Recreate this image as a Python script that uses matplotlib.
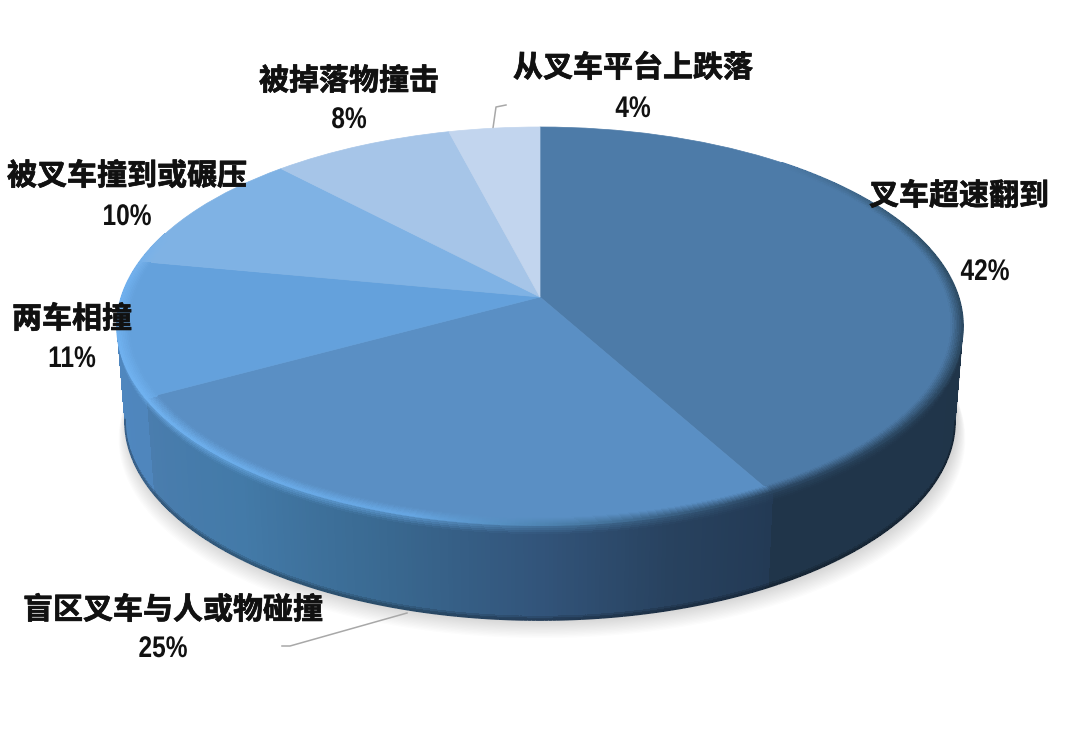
import numpy as np
import matplotlib
matplotlib.use('Agg')
import matplotlib.pyplot as plt
from matplotlib.collections import PolyCollection, LineCollection
from matplotlib.colors import to_rgb
from matplotlib.transforms import Transform, Affine2D
import matplotlib.patheffects as pe

# ---- data ----
categories = ['叉车超速翻到', '盲区叉车与人或物碰撞', '两车相撞',
              '被叉车撞到或碾压', '被掉落物撞击', '从叉车平台上跌落']
values = [42, 25, 11, 10, 8, 4]
pct_labels = ['42%', '25%', '11%', '10%', '8%', '4%']

# ---- style ----
face_colors = ['#4d7ba8', '#5a8fc4', '#64a1dc', '#7fb2e4', '#a6c5e8', '#c2d5ee']
side_stops = [
    [(0, '#1f3448'), (151.2, '#20354a')],
    [(0, '#233a55'), (.15, '#28425f'), (.32, '#32547a'), (.54, '#3a6a92'),
     (.76, '#437aa8'), (1, '#4a7dae')],
    [(0, '#4f86bd'), (1, '#5088c0')],
    [(0, '#5088c0'), (1, '#5088c0')],
    [(0, '#5088c0'), (1, '#5088c0')],
    [(0, '#1f3448'), (1, '#1f3448')],
]
bevel_stops = [(0, '#4d7ba8'), (40, '#4d7ba8'), (70, '#33556f'), (95, '#2d4a63'),
               (151, '#2a4560'), (165, '#3b6286'), (180, '#4f86b4'), (195, '#66a6e2'),
               (241, '#70b2f0'), (275, '#70b0ee'), (290, '#7fb2e4'), (360, '#7fb2e4')]

# geometry of the perspective view (figure pixels)
APEX_X, APEX_Y, A, C, K = 540.0, 297.0, -151.5, 0.1457, 418.5
DEPTH, SHRINK = 95.0, 0.981
WALL_FROM, WALL_TO = 98.0, 262.0


def persp(u, v):
    den = 1 + C * np.asarray(v)
    return APEX_X + K * np.asarray(u) / den, (APEX_Y + A * np.asarray(v)) / den


class Perspective(Transform):
    input_dims = output_dims = 2
    is_affine = False

    def transform_non_affine(self, xy):
        xy = np.asarray(xy, float)
        x, y = persp(xy[:, 0], xy[:, 1])
        return np.column_stack([x, y])


class Squeeze(pe.AbstractPathEffect):
    """Narrow the glyphs about a vertical line, for a condensed face."""

    def __init__(self, cx, sx):
        super().__init__()
        self.cx, self.sx = cx, sx

    def draw_path(self, renderer, gc, tpath, affine, rgbFace=None):
        a = affine + Affine2D().translate(-self.cx, 0).scale(self.sx, 1).translate(self.cx, 0)
        renderer.draw_path(gc, tpath, a, rgbFace)


def interp_color(stops, x):
    xs = [s[0] for s in stops]
    cs = np.array([to_rgb(s[1]) for s in stops])
    return np.array([np.interp(x, xs, cs[:, i]) for i in range(3)])


def edge(theta, r=1.0):
    t = np.radians(theta)
    return persp(r * np.sin(t), r * np.cos(t))


def lower(x, y, f):
    return APEX_X + (x - APEX_X) * (1 + (SHRINK - 1) * f), y + DEPTH * f


fig = plt.figure(figsize=(10.8, 7.42), dpi=100, facecolor='white')
ax = fig.add_axes([0, 0, 1, 1])

# true pie wedges, seen through the perspective transform
wedges, _ = ax.pie(values, startangle=90, counterclock=False, colors=face_colors,
                   radius=1.0, wedgeprops=dict(edgecolor='none', linewidth=0, zorder=5))
ax.set_aspect('auto')
ax.set_xlim(0, 1080)
ax.set_ylim(742, 0)
ax.axis('off')
tr = Perspective() + ax.transData
for w, c in zip(wedges, face_colors):
    w.set_transform(tr)
    w.set_edgecolor(c)
    w.set_linewidth(0.5)

cum = np.cumsum([0] + values) / np.sum(values) * 360.0

# soft shadow under the disc
ang = np.linspace(0, 360, 361)
ex, ey = edge(ang)
bx, by = lower(ex, ey, 1.0)
for grow in np.linspace(20, 1, 14):
    sx = APEX_X + 2 + (bx - APEX_X) * (1 + grow / 1000)
    sy = by + grow * 0.9
    ax.fill(sx, sy, color='#707070', alpha=0.02, lw=0, zorder=1)


def side_color(theta):
    i = min(np.searchsorted(cum, theta, side='right') - 1, len(values) - 1)
    t = (theta - cum[i]) / (cum[i + 1] - cum[i])
    stops = side_stops[i]
    if i == 0:
        return interp_color(stops, theta)
    return interp_color(stops, t)


# side wall strips (only the part that faces the viewer)
polys, cols = [], []
thetas = np.arange(WALL_FROM, WALL_TO, 0.5)
fs = np.concatenate([np.linspace(0, 0.12, 7), np.linspace(0.16, 0.94, 5), np.linspace(0.96, 1, 3)])
for th in thetas:
    x0, y0 = edge(th)
    x1, y1 = edge(th + 0.6)
    sc = side_color(th + 0.25)
    bc = interp_color(bevel_stops, th)
    for f0, f1 in zip(fs[:-1], fs[1:]):
        xa, ya = lower(x0, y0, f0)
        xb, yb = lower(x1, y1, f0)
        xc, yc = lower(x1, y1, f1)
        xd, yd = lower(x0, y0, f1)
        polys.append([(xa, ya), (xb, yb), (xc, yc), (xd, yd)])
        fm = (f0 + f1) / 2
        col = sc + (bc - sc) * max(0, 1 - fm / 0.10) * 0.8
        if fm > 0.95:
            col = col * (1 - 0.3 * (fm - 0.95) / 0.05)
        cols.append(col)
ax.add_collection(PolyCollection(polys, facecolors=cols, edgecolors='none', linewidths=0,
                                 antialiaseds=False, zorder=3))

# smooth outline for the silhouette of the wall
sil = np.arange(WALL_FROM, WALL_TO + 0.5, 0.5)
ex, ey = edge(sil)
bx, by = lower(ex, ey, 1.0)
segs = [[(bx[i], by[i]), (bx[i + 1], by[i + 1])] for i in range(len(sil) - 1)]
cs = [side_color(t) * 0.72 for t in sil[:-1]]
ax.add_collection(LineCollection(segs, colors=cs, linewidths=1.3, zorder=3.5))
lx, ly = lower(*edge(WALL_TO + 0.5), np.linspace(0, 1, 30))
rx, ry = lower(*edge(WALL_FROM), np.linspace(0, 1, 30))
ax.plot(lx, ly, color=side_color(WALL_TO), lw=1.2, zorder=3.5)
ax.plot(rx, ry, color=side_color(WALL_FROM), lw=1.2, zorder=3.5)

# bevel on the rim of the top face
polys, cols = [], []
rs = np.linspace(0.972, 1.0, 8)
for th in np.arange(40, 290, 0.5):
    i = min(np.searchsorted(cum, th + 0.25, side='right') - 1, len(values) - 1)
    fc = np.array(to_rgb(face_colors[i]))
    bc = interp_color(bevel_stops, th)
    for r0, r1 in zip(rs[:-1], rs[1:]):
        xa, ya = edge(th, r0)
        xb, yb = edge(th + 0.6, r0)
        xc, yc = edge(th + 0.6, r1)
        xd, yd = edge(th, r1)
        polys.append([(xa, ya), (xb, yb), (xc, yc), (xd, yd)])
        t = ((r0 + r1) / 2 - rs[0]) / (rs[-1] - rs[0])
        cols.append(fc + (bc - fc) * t)
ax.add_collection(PolyCollection(polys, facecolors=cols, edgecolors='none', linewidths=0,
                                 antialiaseds=False, zorder=6))
# smooth outer line of the bevel
rim = np.arange(40, 290, 0.5)
ex, ey = edge(rim)
segs = [[(ex[i], ey[i]), (ex[i + 1], ey[i + 1])] for i in range(len(rim) - 1)]
ax.add_collection(LineCollection(segs, colors=[interp_color(bevel_stops, t) for t in rim[:-1]],
                                 linewidths=1.2, zorder=6.5))

# leader lines
ax.plot([282, 290, 407], [646, 646, 613], color='#a8a8a8', lw=1.1, zorder=2)
ax.plot([493, 496, 506], [128, 107, 105], color='#a8a8a8', lw=1.1, zorder=2)

# labels
cjk = ['Noto Sans CJK SC', 'DejaVu Sans']
pct_font = ['Liberation Sans']
name_xy = [(959, 196), (173, 610), (72, 319), (127, 176), (349, 81), (633, 68)]
pct_xy = [(985, 272), (163, 649), (72, 359), (127, 217), (349, 120), (633, 109)]
stroke = [pe.withStroke(linewidth=0.5, foreground='#111111')]
for name, pct, nxy, pxy in zip(categories, pct_labels, name_xy, pct_xy):
    ax.text(*nxy, name, family=cjk, fontsize=21.6, fontweight='bold', color='#111111',
            ha='center', va='center', zorder=8, path_effects=stroke)
    ax.text(*pxy, pct, family=pct_font, fontsize=21.5, fontweight='bold', color='#111111',
            ha='center', va='center', zorder=8, path_effects=[Squeeze(pxy[0], 0.82)])

fig.savefig('out.png', dpi=100, facecolor='white')
